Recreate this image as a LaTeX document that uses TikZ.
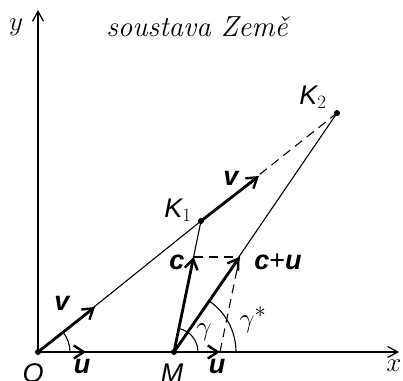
\documentclass[tikz,border=0pt]{standalone}
\usepackage{graphicx}
\usepackage{fontspec}
\setsansfont{Liberation Sans}
\usetikzlibrary{arrows.meta,calc}
\newcommand{\mathbigger}[1]{\scalebox{1.09}{$#1$}}
\begin{document}
\begin{tikzpicture}[x=1pt,y=1pt,
  axis/.style={line width=1.3pt,-{Straight Barb[length=10pt,width=11pt]}},
  vec/.style={line width=2.8pt,-{Straight Barb[length=10pt,width=13pt,line width=2.4pt]}},
  thin/.style={line width=1.1pt},
  dsh/.style={line width=1.1pt,dash pattern=on 9pt off 6pt},
  lbl/.style={font=\fontsize{27}{32}\selectfont, inner sep=0pt},
  mlbl/.style={font=\fontsize{24.88}{30}\selectfont, inner sep=0pt},
  vlbl/.style={font=\fontsize{27}{32}\selectfont\sffamily\bfseries\itshape, inner sep=0pt},
  pt/.style={circle,fill,inner sep=0pt,minimum size=6pt}]
\useasboundingbox (0,0) rectangle (403,380);
\coordinate (O) at (38,28);
\coordinate (M) at (174,28);
\coordinate (Xe) at (399,28);
\coordinate (Ye) at (38,370);
\coordinate (K1) at (201,159);
\coordinate (K2) at (337,267);
\coordinate (uO) at (86,28);
\coordinate (vO) at (95,73);
\coordinate (vK) at (259,204);
\coordinate (cM) at (193.6,123);
\coordinate (cuM) at (239.6,123);
\coordinate (uM) at (220,28);
% axes
\draw[axis] (O) -- (Xe);
\draw[axis] (O) -- (Ye);
% thin lines
\draw[thin] (O) -- (K1);
\draw[thin] (M) -- (K1);
\draw[thin] (M) -- (K2);
\draw[dsh] (K1) -- (K2);
\draw[dsh] (cM) -- (cuM);
\draw[dsh] (uM) -- (cuM);
% arcs
\draw[thin] ($(O)+(32,0)$) arc[start angle=0,end angle=38.3,radius=32pt];
\draw[thin] ($(M)+(24,0)$) arc[start angle=0,end angle=78.3,radius=24pt];
\draw[thin] ($(M)+(62,0)$) arc[start angle=0,end angle=55.4,radius=62pt];
% vectors
\draw[vec] (O) -- (uO);
\draw[vec] (O) -- (vO);
\draw[vec] (M) -- (uM);
\draw[vec] (K1) -- (vK);
\draw[vec] (M) -- (cM);
\draw[vec] (M) -- (cuM);
% points
\node[pt] (pO) at (O) {};
\node[pt] (pM) at (M) {};
\node[pt] (pK1) at (K1) {};
\node[pt] (pK2) at (K2) {};
% labels
\node[mlbl] (ly) at (16,353) {\mathbigger{y}};
\node[mlbl] (lx) at (394,14) {\mathbigger{x}};
\node[lbl,font=\fontsize{29}{34}\selectfont] (title) at (197,353) {\itshape soustava Země};
\node[lbl] (lO) at (33,7) {\sffamily\itshape O};
\node[lbl] (lM) at (172,7) {\sffamily\itshape M};
\node[vlbl] (luO) at (82,14) {u};
\node[vlbl] (luM) at (217,14) {u};
\node[vlbl] (lvO) at (62,77) {v};
\node[vlbl] (lvK) at (231,202) {v};
\node[vlbl] (lc) at (177,118) {c};
\node[lbl] (lcu) at (278,118) {\sffamily\bfseries\itshape c{\mdseries\upshape+}u};
\node[lbl] (lK1) at (178,170) {{\sffamily\itshape K}\scalebox{1.09}{$_1$}};
\node[lbl] (lK2) at (313,283) {{\sffamily\itshape K}\scalebox{1.09}{$_2$}};
\node[mlbl] (lg) at (204,48) {\mathbigger{\gamma}};
\node[mlbl] (lgs) at (253,60) {\mathbigger{\gamma^*}};
\end{tikzpicture}
\end{document}
